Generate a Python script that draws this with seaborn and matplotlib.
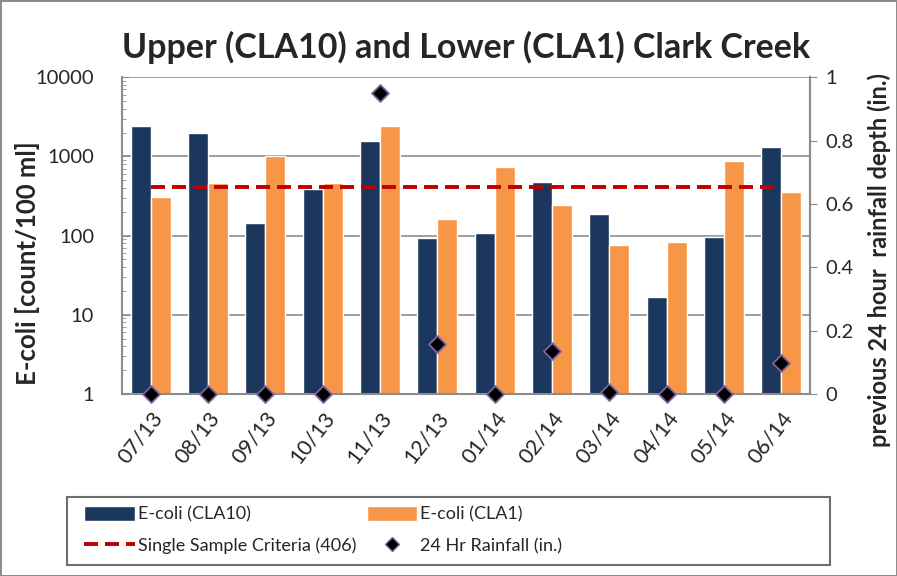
import matplotlib
matplotlib.use('Agg')
import matplotlib.pyplot as plt
import matplotlib.ticker as mticker
import matplotlib.transforms as mtransforms
from matplotlib.lines import Line2D
from matplotlib.patches import Patch, Rectangle
import pandas as pd
import seaborn as sns

# Data
months = ['07/13', '08/13', '09/13', '10/13', '11/13', '12/13',
          '01/14', '02/14', '03/14', '04/14', '05/14', '06/14']
ecoli_cla10 = [2450, 1950, 146, 390, 1550, 92, 109, 480, 185, 17, 97, 1300]
ecoli_cla1 = [310, 465, 1020, 465, 2450, 164, 740, 245, 77, 82, 870, 350]
rainfall = [0, 0, 0, 0, 0.95, 0.158, 0, 0.136, 0.006, 0, 0, 0.098]
criteria = 406

navy = '#1B375E'
orange = '#F79646'
grid_gray = '#8C8C8C'
dash = (0, (3.6, 1.8))

sns.set_style('white')
plt.rcParams['font.family'] = ['Lato', 'DejaVu Sans']

df = pd.DataFrame({
    'month': months * 2,
    'value': ecoli_cla10 + ecoli_cla1,
    'site': ['E-coli (CLA10)'] * len(months) + ['E-coli (CLA1)'] * len(months),
})

fig = plt.figure(figsize=(8.97, 5.76), dpi=100)
ax = fig.add_axes([0.136, 0.316, 0.767, 0.550])

ax.set_yscale('log')
sns.barplot(data=df, x='month', y='value', hue='site', order=months,
            palette=[navy, orange], width=0.7, saturation=1,
            legend=False, ax=ax)
ax.set_ylim(1, 10000)
ax.set_xlim(-0.5, len(months) - 0.5)

# criteria line across category centers
ax.plot(range(len(months)), [criteria] * len(months), color='#C00000',
        linestyle=dash, linewidth=2.8, zorder=4)

ax.yaxis.set_major_locator(mticker.LogLocator(base=10))
ax.yaxis.set_major_formatter(mticker.FuncFormatter(lambda v, p: f'{int(v)}'))
ax.yaxis.set_minor_locator(mticker.LogLocator(base=10, subs=range(2, 10)))
ax.yaxis.set_minor_formatter(mticker.NullFormatter())
ax.grid(axis='y', which='major', color=grid_gray, linewidth=1.2)
ax.set_axisbelow(True)

ax.tick_params(axis='y', which='major', labelsize=14.5, length=5, color=grid_gray,
               direction='in', pad=20)
ax.tick_params(axis='y', which='minor', length=3, color=grid_gray, direction='in')
ax.set_xticks([i + 0.5 for i in range(-1, len(months))], minor=True)
ax.set_xticks(range(len(months)))
ax.set_xticklabels(months, rotation=52, fontsize=15.5, ha='right',
                   rotation_mode='anchor')
shift = mtransforms.ScaledTranslation(-6 / 100, 0, fig.dpi_scale_trans)
for lbl in ax.get_xticklabels():
    lbl.set_transform(lbl.get_transform() + shift)
ax.tick_params(axis='x', which='major', length=0, pad=10)
ax.tick_params(axis='x', which='minor', length=8, color=grid_gray, direction='out')

ax.spines['top'].set_visible(False)
for side in ['left', 'bottom', 'right']:
    ax.spines[side].set_color(grid_gray)
    ax.spines[side].set_linewidth(1.5)

ax.set_xlabel('')
ax.set_ylabel('E-coli [count/100 ml]', fontsize=18.5, fontweight='bold')
ax.yaxis.set_label_coords(-0.119, 0.413)
ax.set_title('Upper (CLA10) and Lower (CLA1) Clark Creek', fontsize=24.5,
             fontweight='bold', pad=14)

# rainfall on secondary axis
ax2 = ax.twinx()
sns.scatterplot(x=range(len(months)), y=rainfall, marker='D', s=75,
                color='black', edgecolor='#8064A2', linewidth=1.3,
                ax=ax2, zorder=5, clip_on=False)
ax2.set_ylim(0, 1)
ax2.set_yticks([0, 0.2, 0.4, 0.6, 0.8, 1])
ax2.set_yticklabels(['0', '0.2', '0.4', '0.6', '0.8', '1'])
ax2.tick_params(axis='y', labelsize=14.5, length=5, color=grid_gray,
                direction='out', pad=6)
ax2.set_ylabel('previous 24 hour  rainfall depth (in.)', fontsize=17,
               fontweight='bold')
ax2.yaxis.set_label_coords(1.084, 0.423)
for side in ['top', 'left', 'bottom']:
    ax2.spines[side].set_visible(False)
ax2.spines['right'].set_color(grid_gray)
ax2.spines['right'].set_linewidth(1.5)

handles = [
    Patch(facecolor=navy, label='E-coli (CLA10)'),
    Line2D([], [], color='#C00000', linestyle=dash, linewidth=2.8,
           label='Single Sample Criteria (406)'),
    Patch(facecolor=orange, label='E-coli (CLA1)'),
    Line2D([], [], marker='D', color='black', markeredgecolor='#8064A2',
           linestyle='none', markersize=7.5, label='24 Hr Rainfall (in.)'),
]
leg = fig.legend(handles=handles, ncol=2, loc='upper left',
                 bbox_to_anchor=(0.084, 0.137), fontsize=13,
                 frameon=False, handlelength=2.8, handleheight=0.9,
                 handletextpad=0.15, borderpad=0, labelspacing=0.8,
                 columnspacing=0.6)

# legend box
fig.add_artist(Rectangle((67 / 897, 1 - 565 / 576), (830 - 67) / 897, 68 / 576,
                         transform=fig.transFigure, fill=False,
                         edgecolor='#6E6E6E', linewidth=1.5))

fig.patch.set_edgecolor('#8C8C8C')
fig.patch.set_linewidth(2)

fig.savefig('out.png', dpi=100, edgecolor=fig.get_edgecolor())
